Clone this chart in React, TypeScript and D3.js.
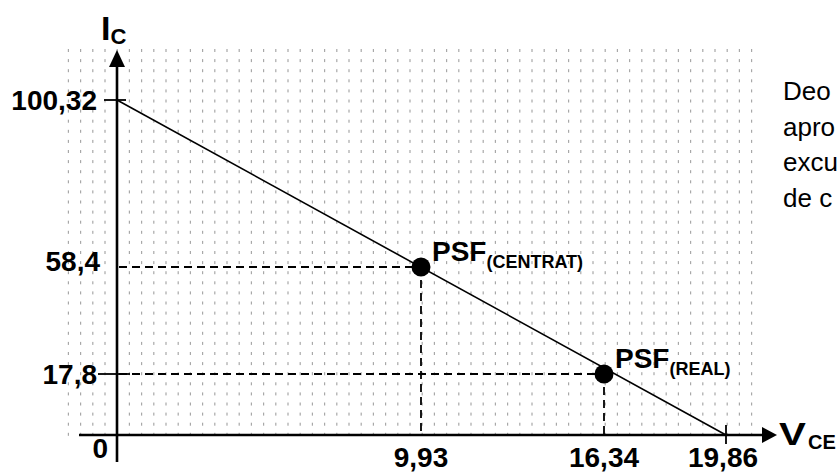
import React from 'react';
import * as d3 from 'd3';

// load line end points (V_CE, I_C)
const loadLine = [
  { vce: 0, ic: 100.32 },
  { vce: 19.86, ic: 0 },
];

// quiescent points
const points = [
  { name: 'PSF', sub: '(CENTRAT)', vce: 9.93, ic: 58.4 },
  { name: 'PSF', sub: '(REAL)', vce: 16.34, ic: 17.8 },
];

const xTicks = [
  { v: 9.93, label: '9,93' },
  { v: 16.34, label: '16,34' },
  { v: 19.86, label: '19,86' },
];
const yTicks = [
  { v: 100.32, label: '100,32' },
  { v: 58.4, label: '58,4' },
  { v: 17.8, label: '17,8' },
];

const sideText = ['Deo', 'apro', 'excu', 'de c'];

const W = 837;
const H = 474;
const FONT = 'Arial, "Liberation Sans", Helvetica, sans-serif';

export default function App() {
  // the drawing is schematic, not to scale: piecewise axes
  const x = d3.scaleLinear().domain([0, 9.93, 16.34, 19.86]).range([117, 421, 604, 726]);
  const y = d3.scaleLinear().domain([0, 17.8, 58.4, 100.32]).range([435, 374, 267, 100]);

  const x0 = x(0);
  const y0 = y(0);

  const gridX = d3.range(68.3, 753, 12.2);
  const gridY = d3.range(49, 436, 10.1);

  const line = d3.line<{ vce: number; ic: number }>()
    .x(d => x(d.vce))
    .y(d => y(d.ic));

  return (
    <div style={{ position: 'absolute', left: 0, top: 0, width: W, height: H, background: 'white' }}>
      <svg width={W} height={H} style={{ display: 'block', fontFamily: FONT }}>
        {/* dotted grid */}
        <g fill="#a8a8a8">
          {gridX.map(gx => gridY.map(gy => (
            <rect key={gx + '_' + gy} x={gx - 0.5} y={gy} width={1.2} height={3} />
          )))}
        </g>

        {/* dashed guides */}
        <g stroke="#000" strokeWidth={1.8} strokeDasharray="8 5" fill="none">
          {points.map((p, i) => (
            <g key={i}>
              <line x1={x0 + 2} y1={y(p.ic)} x2={x(p.vce)} y2={y(p.ic)} />
              <line x1={x(p.vce)} y1={y(p.ic)} x2={x(p.vce)} y2={y0} />
            </g>
          ))}
        </g>

        {/* load line */}
        <path d={line(loadLine) || ''} stroke="#000" strokeWidth={1.6} fill="none" />

        {/* axes */}
        <g stroke="#000" strokeWidth={2.6}>
          <line x1={x0} y1={462} x2={x0} y2={64} />
          <line x1={79} y1={y0} x2={764} y2={y0} />
        </g>
        <path d={`M${x0},50 L${x0 - 8},67 L${x0 + 8},67 Z`} fill="#000" />
        <path d={`M777,${y0} L762,${y0 - 8} L762,${y0 + 8} Z`} fill="#000" />

        {/* small ticks */}
        <g stroke="#000" strokeWidth={1.8}>
          <line x1={104} y1={y(100.32)} x2={126} y2={y(100.32)} />
          <line x1={98} y1={y(17.8)} x2={130} y2={y(17.8)} />
          <line x1={x(19.86)} y1={y0 - 10} x2={x(19.86)} y2={y0 + 9} />
        </g>

        {/* tick labels */}
        <g fontWeight="bold" fontSize={28} fill="#000">
          {yTicks.map(t => (
            <text key={t.label} x={t.v === 58.4 ? 100 : 97} y={y(t.v) + (t.v === 58.4 ? 4 : 10)} textAnchor="end">{t.label}</text>
          ))}
          <text x={108} y={458} textAnchor="end">0</text>
          {xTicks.map(t => (
            <text key={t.label} x={x(t.v) - (t.v === 19.86 ? 3 : 0)} y={467} textAnchor="middle">{t.label}</text>
          ))}
        </g>

        {/* operating points */}
        {points.map((p, i) => (
          <g key={i}>
            <circle cx={x(p.vce)} cy={y(p.ic)} r={9.5} fill="#000" />
            <text x={x(p.vce) + 11} y={y(p.ic) - 6} fontWeight="bold" fill="#000">
              <tspan fontSize={28}>{p.name}</tspan>
              <tspan fontSize={18} dy={7}>{p.sub}</tspan>
            </text>
          </g>
        ))}

        {/* axis titles */}
        <text x={101} y={40} fontWeight="bold" fill="#000">
          <tspan fontSize={34}>I</tspan>
          <tspan fontSize={22} dy={4}>C</tspan>
        </text>
        <text transform="translate(779,445) scale(1.3,1)" fontWeight="bold" fontSize={31} fill="#000">V</text>
        <text x={808} y={449} fontWeight="bold" fontSize={20} fill="#000">CE</text>

        {/* paragraph cut by the page edge */}
        <g fontSize={26} fill="#000">
          {sideText.map((s, i) => (
            <text key={i} x={783} y={100 + i * 35.5}>{s}</text>
          ))}
        </g>
      </svg>
    </div>
  );
}
